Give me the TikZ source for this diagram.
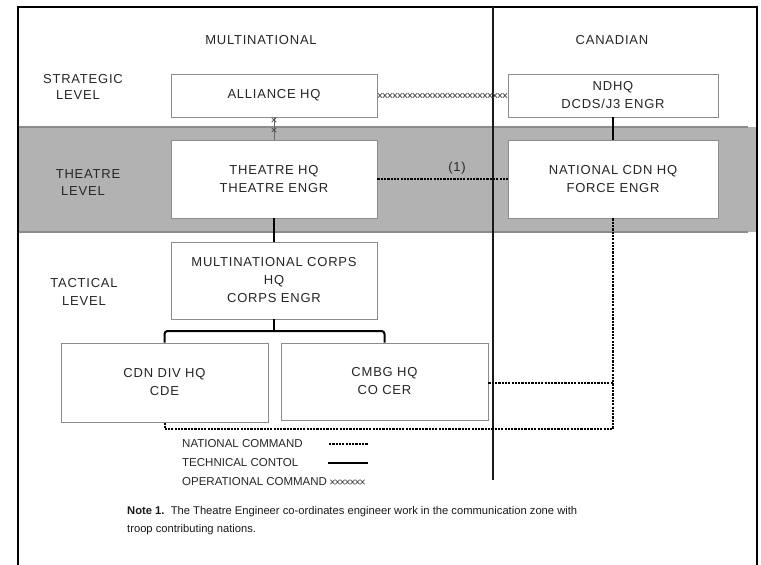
\documentclass[tikz,border=0pt]{standalone}
\usepackage{fontspec}
\setmainfont{Liberation Sans}
\newfontfamily\spacedfont[LetterSpace=6]{Liberation Sans}
\usetikzlibrary{decorations.markings}

\newcommand\boxtextfont{\spacedfont\fontsize{13}{18}\selectfont}
\newcommand\legendfont{\fontsize{11.5}{14}\selectfont}
\newcommand\notefont{\fontsize{11.2}{18}\selectfont}

\tikzset{
  orgbox/.style={draw=black!45, line width=0.9pt, fill=white, inner sep=0pt,
    align=center, font=\boxtextfont, text=black!85},
  lbl/.style={font=\boxtextfont, text=black!85, inner sep=0pt, align=center},
  tech/.style={line width=2pt, black},
  natl/.style={line width=2pt, black, dash pattern=on 2.2pt off 1.1pt},
  oper/.style={postaction={decorate}, decoration={markings,
    mark=between positions 2.5pt and -1pt step #1 with {
      \draw[black!70, line width=0.75pt] (-2.1pt,-2.3pt) -- (2.1pt,2.3pt)
        (-2.1pt,2.3pt) -- (2.1pt,-2.3pt);}}},
  oper/.default=5pt,
  frame/.style={line width=2pt, black},
  divider/.style={line width=2.2pt, black!90},
}

\begin{document}
\begin{tikzpicture}[x=1pt, y=-1pt]
\useasboundingbox (0,0) rectangle (761,565);

% theatre band
\fill[black!30] (18,127) rectangle (757,232);
\draw[black!45, line width=1.2pt] (18,127) -- (748,127) (18,232) -- (748,232);

% outer frame and national divider
\draw[frame] (18,570) -- (18,7) -- (757,7) -- (757,570);
\draw[divider] (493,7) -- (493,480);

% column and level headings
\node[lbl] (hmulti) at (261,40) {MULTINATIONAL};
\node[lbl] (hcan) at (612,40) {CANADIAN};
\node[lbl] (lstrat1) at (83,79) {STRATEGIC};
\node[lbl] (lstrat2) at (78,95) {LEVEL};
\node[lbl] (ltheat1) at (88,174) {THEATRE};
\node[lbl] (ltheat2) at (83,191) {LEVEL};
\node[lbl] (ltact1) at (84,283) {TACTICAL};
\node[lbl] (ltact2) at (84,301) {LEVEL};

% headquarters
\node[orgbox, minimum width=206pt, minimum height=43pt] (alliance) at (274,95.5) {ALLIANCE HQ};
\node[orgbox, minimum width=210pt, minimum height=43pt] (ndhq) at (613,95.5) {NDHQ\\DCDS/J3 ENGR};
\node[orgbox, minimum width=206pt, minimum height=78pt] (theatre) at (274,179) {THEATRE HQ\\THEATRE ENGR};
\node[orgbox, minimum width=210pt, minimum height=78pt] (nchq) at (613,179) {NATIONAL CDN HQ\\FORCE ENGR};
\node[orgbox, minimum width=206pt, minimum height=77pt] (corps) at (274,280.5) {MULTINATIONAL CORPS\\HQ\\CORPS ENGR};
\node[orgbox, minimum width=207pt, minimum height=79pt] (cdndiv) at (164.5,382.5) {CDN DIV HQ\\CDE};
\node[orgbox, minimum width=207pt, minimum height=77pt] (cmbg) at (384.5,381.5) {CMBG HQ\\CO CER};

% operational command
\path[oper] (alliance.east) -- (ndhq.west);
\draw[black!60, line width=0.5pt] (alliance.south) -- (theatre.north);
\path[oper=10pt] (alliance.south) -- (theatre.north);

% technical control
\draw[tech] (ndhq.south) -- (nchq.north);
\draw[tech] (theatre.south) -- (corps.north);
\coordinate (fork) at (274,331);
\draw[tech] (corps.south) -- (fork);
\draw[tech, rounded corners=3pt] (cdndiv.north) |- (fork) -| (cmbg.north);

% national command
\draw[natl] (theatre.east) -- (nchq.west);
\node[lbl] (note1ref) at (457,168) {(1)};
\coordinate (ncturn) at (613,429);
\draw[natl] (nchq.south) -- (ncturn) -| (cdndiv.south);
\coordinate (cmbgtap) at (613,382.5);
\draw[natl] (cmbg.east |- cmbgtap) -- (cmbgtap);

% legend
\node[anchor=west, font=\legendfont, text=black!85, inner sep=0pt] (lgnat) at (182,444) {NATIONAL COMMAND};
\node[anchor=west, font=\legendfont, text=black!85, inner sep=0pt] (lgtech) at (182,463) {TECHNICAL CONTOL};
\node[anchor=west, font=\legendfont, text=black!85, inner sep=0pt] (lgop) at (182,482) {OPERATIONAL COMMAND};
\coordinate (lna) at (329,444); \coordinate (lnb) at (368,444);
\coordinate (lta) at (328,463); \coordinate (ltb) at (368,463);
\coordinate (loa) at (330,482); \coordinate (lob) at (367,482);
\draw[natl] (lna) -- (lnb);
\draw[tech, line width=2.4pt] (lta) -- (ltb);
\path[oper] (loa) -- (lob);

% footnote
\node[anchor=north west, align=left, font=\notefont, text=black!90, inner sep=0pt] (note) at (127,506)
  {\textbf{Note 1.}\ \ The Theatre Engineer co-ordinates engineer work in the communication zone with\\troop contributing nations.};
\end{tikzpicture}
\end{document}
